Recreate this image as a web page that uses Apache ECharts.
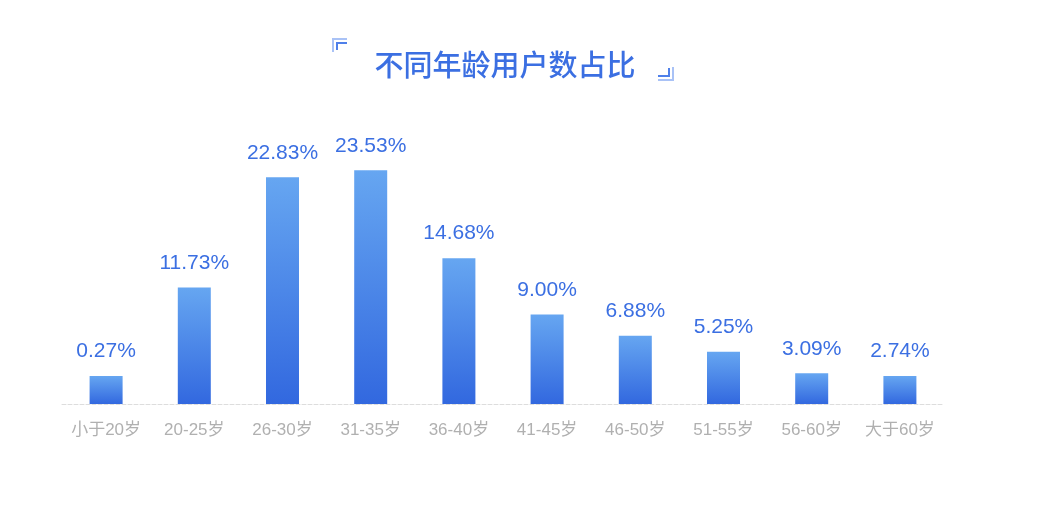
<!DOCTYPE html>
<html>
<head>
<meta charset="utf-8">
<style>
  html, body { margin: 0; padding: 0; background: #fff; }
  #main { width: 1041px; height: 511px; }
</style>
<script src="https://cdn.jsdelivr.net/npm/echarts@6/dist/echarts.min.js"></script>
</head>
<body>
<div id="main"></div>
<script>
// 年龄段
var ageGroups = ['小于20岁', '20-25岁', '26-30岁', '31-35岁', '36-40岁', '41-45岁', '46-50岁', '51-55岁', '56-60岁', '大于60岁'];
// 占比(%)
var shares = [0.27, 11.73, 22.83, 23.53, 14.68, 9.00, 6.88, 5.25, 3.09, 2.74];

window.onload = function () {
    var myChart = echarts.init(document.getElementById('main'));

    var option = {
        backgroundColor: '#fff',
        title: {
            text: '不同年龄用户数占比',
            left: 500,
            top: 45,
            textAlign: 'center',
            textStyle: {
                color: '#3b6fe2',
                fontSize: 29,
                fontWeight: 500,
                fontFamily: 'Noto Sans CJK SC'
            }
        },
        // 标题两边的角标
        graphic: [
            { type: 'polyline', shape: { points: [[333, 52], [333, 39], [347, 39]] }, style: { stroke: '#a9c2f6', lineWidth: 2, fill: null } },
            { type: 'polyline', shape: { points: [[337, 50], [337, 43], [347, 43]] }, style: { stroke: '#4f80ea', lineWidth: 2, fill: null } },
            { type: 'polyline', shape: { points: [[658, 80], [673, 80], [673, 67]] }, style: { stroke: '#a9c2f6', lineWidth: 2, fill: null } },
            { type: 'polyline', shape: { points: [[658, 76], [669, 76], [669, 68]] }, style: { stroke: '#4f80ea', lineWidth: 2, fill: null } }
        ],
        grid: {
            left: 62,
            right: 97,
            top: 106,
            bottom: 107
        },
        xAxis: {
            type: 'category',
            data: ageGroups,
            axisTick: { show: false },
            axisLine: {
                lineStyle: { color: '#dddddd', type: 'dashed', width: 1 }
            },
            axisLabel: {
                interval: 0,
                color: '#b0b0b0',
                fontSize: 17,
                margin: 18,
                fontFamily: 'Liberation Sans, Noto Sans CJK SC'
            }
        },
        yAxis: {
            type: 'value',
            min: 0,
            max: 30,
            show: false,
            splitLine: { show: false }
        },
        series: [
            {
                type: 'bar',
                data: shares,
                barWidth: 33,
                barMinHeight: 28,
                itemStyle: {
                    color: new echarts.graphic.LinearGradient(0, 0, 0, 1, [
                        { offset: 0, color: '#66a6f1' },
                        { offset: 1, color: '#3268df' }
                    ])
                },
                label: {
                    show: true,
                    position: 'top',
                    distance: 14,
                    color: '#3b6fe2',
                    fontSize: 21,
                    fontFamily: 'Liberation Sans',
                    formatter: function (p) {
                        return p.value.toFixed(2) + '%';
                    }
                }
            }
        ]
    };

    myChart.setOption(option);
};
</script>
</body>
</html>
